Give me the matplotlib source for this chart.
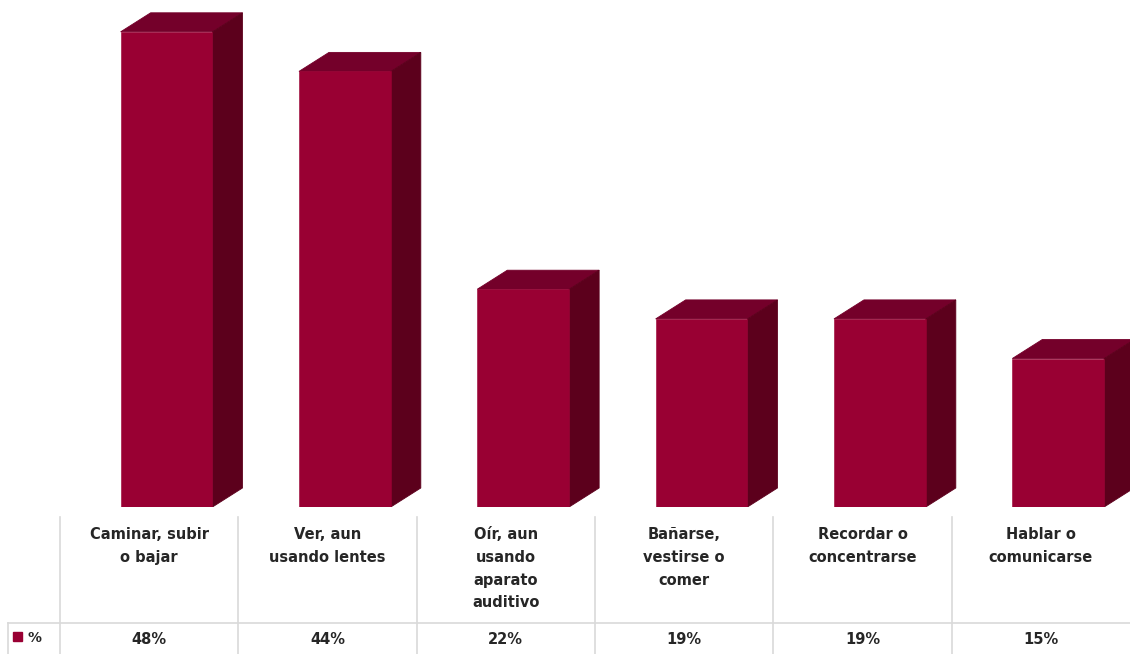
import matplotlib.pyplot as plt
from matplotlib.patches import Polygon
import numpy as np

categorias = ["Caminar, subir\no bajar", "Ver, aun\nusando lentes", "Oír, aun\nusando\naparato\nauditivo",
              "Bañarse,\nvestirse o\ncomer", "Recordar o\nconcentrarse", "Hablar o\ncomunicarse"]
valores = [48, 44, 22, 19, 19, 15]
etiquetas = ["48%", "44%", "22%", "19%", "19%", "15%"]
serie = "%"

cor_frente = "#990033"
cor_topo = "#74002a"
cor_lado = "#5c001c"
cor_grade = "#d9d9d9"
cor_texto = "#262626"

W, H = 1130, 654
fig = plt.figure(figsize=(W / 100, H / 100), dpi=100)

# eixo das barras: coluna de 60px ate a borda direita, zero em y=507px
px_y = 9.9  # pixels por ponto percentual
ax = fig.add_axes([60 / W, (H - 507) / H, (W - 60) / W, 507 / H])
ax.set_xlim(-0.5, len(valores) - 0.5)
ax.set_ylim(0, 507 / px_y)
ax.axis("off")

col_px = (W - 60) / len(valores)
dx = 30 / col_px
dy = 19 / px_y
esq, dir_ = -0.16, 0.355

for i, v in enumerate(valores):
    x0, x1 = i + esq, i + dir_
    topo = [(x0, v), (x1, v), (x1 + dx, v + dy), (x0 + dx, v + dy)]
    lado = [(x1, 0), (x1 + dx, dy), (x1 + dx, v + dy), (x1, v)]
    ax.add_patch(Polygon(topo, closed=True, facecolor=cor_topo, edgecolor=cor_topo, lw=0.6, zorder=2))
    ax.add_patch(Polygon(lado, closed=True, facecolor=cor_lado, edgecolor=cor_lado, lw=0.6, zorder=2))
    ax.bar((x0 + x1) / 2, v, width=x1 - x0, color=cor_frente, edgecolor=cor_frente, lw=0.4, zorder=3)

# tabela de dados embaixo
tb = fig.add_axes([0, 0, 1, (H - 507) / H])
tb.set_xlim(0, W)
tb.set_ylim(H, 507)
tb.axis("off")

bordas = [60 + col_px * i for i in range(len(valores) + 1)]
for b in bordas[:-1]:
    tb.plot([b, b], [517, H], color=cor_grade, lw=1.2)
tb.plot([8, W], [623, 623], color=cor_grade, lw=1.2)
tb.plot([8, 8], [623, H], color=cor_grade, lw=1.2)

for i in range(len(valores)):
    cx = (bordas[i] + bordas[i + 1]) / 2
    tb.text(cx, 527, categorias[i], ha="center", va="top", fontsize=10.5,
            fontweight="bold", color=cor_texto, linespacing=1.65)
    tb.text(cx, 639, etiquetas[i], ha="center", va="center", fontsize=10.5,
            fontweight="bold", color=cor_texto)

tb.add_patch(plt.Rectangle((13, 632), 9, 9, color=cor_frente))
tb.text(27, 638, serie, ha="left", va="center", fontsize=10, fontweight="bold", color=cor_texto)

fig.savefig("out.png", dpi=100)
